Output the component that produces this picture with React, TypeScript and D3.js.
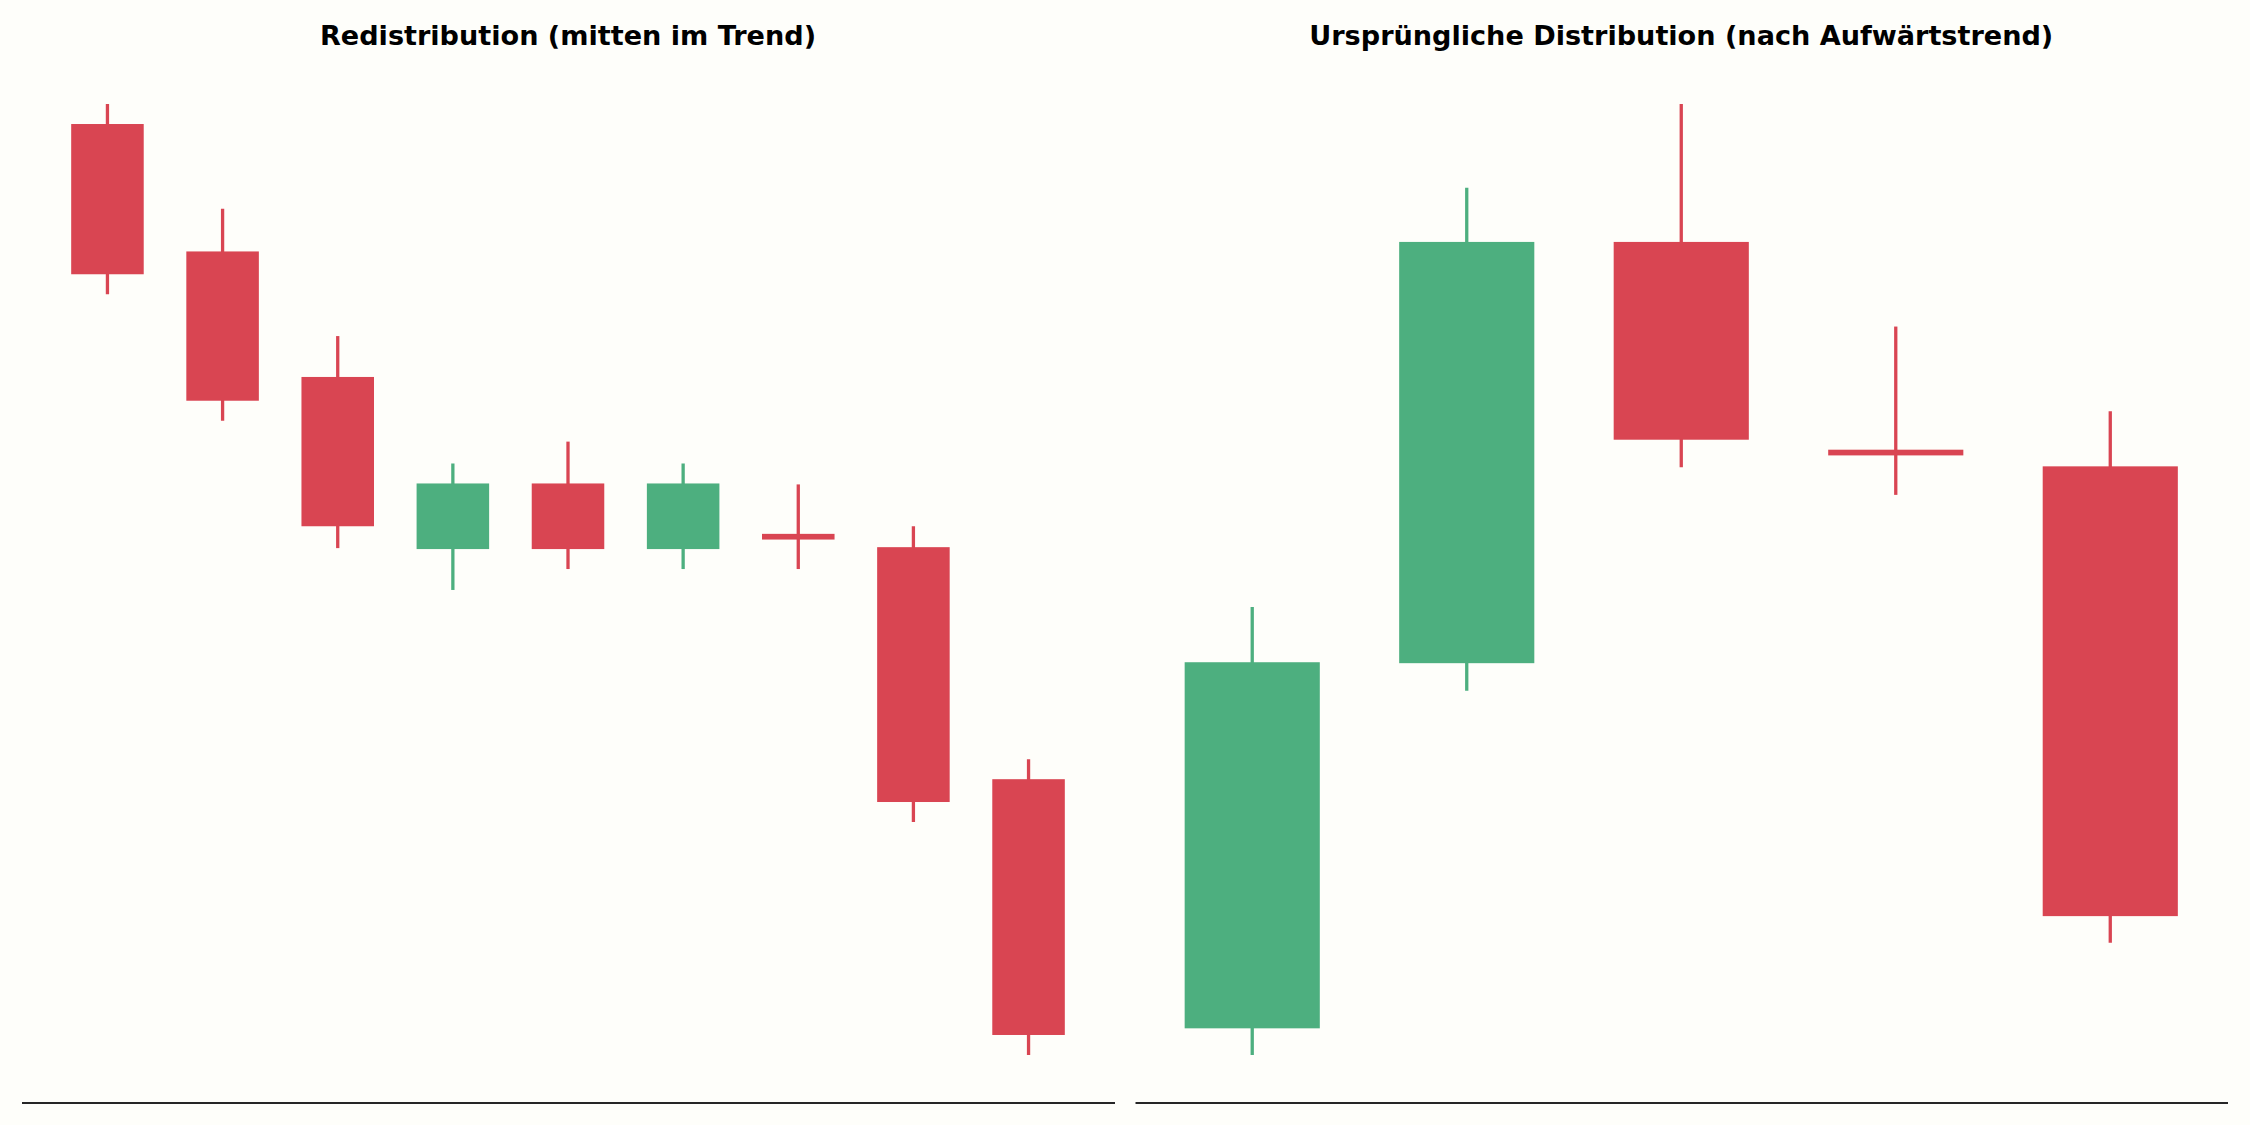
import React, { useEffect, useRef } from 'react';
import * as d3 from 'd3';

// ---- Data ----
const leftTitle = 'Redistribution (mitten im Trend)';
const rightTitle = 'Ursprüngliche Distribution (nach Aufwärtstrend)';

const leftOpen = [97.9, 84.5, 71.3, 53.2, 60.1, 53.2, 54.8, 53.4, 29.0];
const leftClose = [82.1, 68.8, 55.6, 60.1, 53.2, 60.1, 54.2, 26.6, 2.1];
const leftHigh = [100, 89.0, 75.6, 62.2, 64.5, 62.2, 60.0, 55.6, 31.1];
const leftLow = [80.0, 66.7, 53.3, 48.9, 51.1, 51.1, 51.1, 24.5, 0];

const rightOpen = [2.8, 41.2, 85.5, 63.65, 61.9];
const rightClose = [41.3, 85.5, 64.7, 63.05, 14.6];
const rightHigh = [47.1, 91.2, 100, 76.6, 67.7];
const rightLow = [0, 38.3, 61.8, 58.9, 11.8];

// ---- Style ----
const W = 2250;
const H = 1125;
const BG = '#FEFEFA';
const UP = '#4DAF7F';
const DOWN = '#D94552';
const SPINE = '#262626';
const BODY_W = 0.63;

type Panel = {
  title: string;
  open: number[];
  close: number[];
  high: number[];
  low: number[];
  x0: number;
  x1: number;
};

const panels: Panel[] = [
  { title: leftTitle, open: leftOpen, close: leftClose, high: leftHigh, low: leftLow, x0: 21.5, x1: 1114.5 },
  { title: rightTitle, open: rightOpen, close: rightClose, high: rightHigh, low: rightLow, x0: 1135, x1: 2227.5 },
];

const AX_TOP = 56.5;
const AX_BOTTOM = 1102.5;

export default function App() {
  const ref = useRef<SVGSVGElement | null>(null);

  useEffect(() => {
    const svg = d3.select(ref.current);
    svg.selectAll('*').remove();
    svg.append('rect').attr('width', W).attr('height', H).attr('fill', BG);

    panels.forEach((p) => {
      const n = p.open.length;
      const xmin = -BODY_W / 2;
      const xmax = n - 1 + BODY_W / 2;
      const xm = (xmax - xmin) * 0.05;
      const x = d3.scaleLinear().domain([xmin - xm, xmax + xm]).range([p.x0, p.x1]);

      const ymin = d3.min(p.low) as number;
      const ymax = d3.max(p.high) as number;
      const ym = (ymax - ymin) * 0.05;
      const y = d3.scaleLinear().domain([ymin - ym, ymax + ym]).range([AX_BOTTOM, AX_TOP]);

      const g = svg.append('g');
      const idx = d3.range(n);

      // wicks
      g.selectAll('line.wick')
        .data(idx)
        .enter()
        .append('line')
        .attr('x1', (i) => x(i))
        .attr('x2', (i) => x(i))
        .attr('y1', (i) => y(p.high[i]))
        .attr('y2', (i) => y(p.low[i]))
        .attr('stroke', (i) => (p.close[i] >= p.open[i] ? UP : DOWN))
        .attr('stroke-width', 3.3);

      // bodies
      g.selectAll('rect.body')
        .data(idx)
        .enter()
        .append('rect')
        .attr('x', (i) => x(i - BODY_W / 2))
        .attr('width', (i) => x(i + BODY_W / 2) - x(i - BODY_W / 2))
        .attr('y', (i) => y(Math.max(p.open[i], p.close[i])))
        .attr('height', (i) => y(Math.min(p.open[i], p.close[i])) - y(Math.max(p.open[i], p.close[i])))
        .attr('fill', (i) => (p.close[i] >= p.open[i] ? UP : DOWN));

      // bottom spine
      const axis = d3.axisBottom(x).tickValues([]).tickSizeOuter(0);
      const ax = svg.append('g').attr('transform', `translate(0,${AX_BOTTOM})`).call(axis);
      ax.select('.domain').attr('stroke', SPINE).attr('stroke-width', 2);

      // title
      svg
        .append('text')
        .attr('x', (p.x0 + p.x1) / 2)
        .attr('y', 44.5)
        .attr('text-anchor', 'middle')
        .attr('font-family', '"DejaVu Sans", sans-serif')
        .attr('font-weight', 'bold')
        .attr('font-size', 27.1)
        .attr('fill', '#000')
        .text(p.title);
    });
  }, []);

  return (
    <div style={{ position: 'fixed', left: 0, top: 0, width: W, height: H, background: BG }}>
      <svg ref={ref} width={W} height={H} style={{ display: 'block' }} />
    </div>
  );
}
